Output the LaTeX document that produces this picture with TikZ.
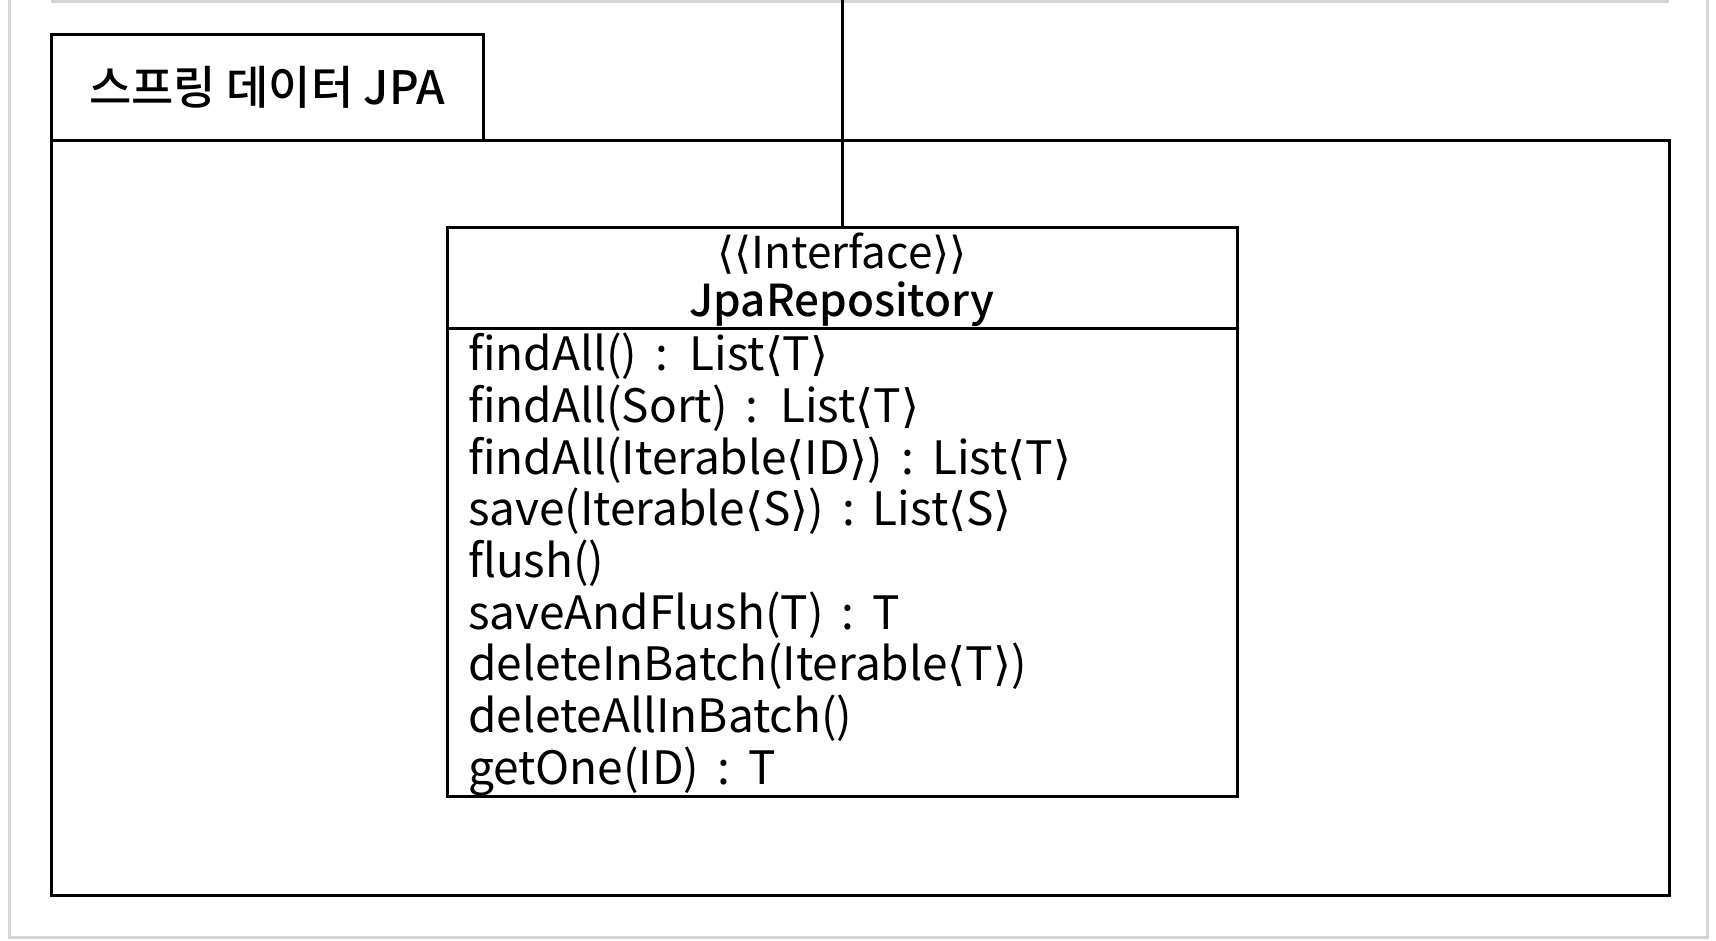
\documentclass[tikz,border=0pt]{standalone}
\usepackage{fontspec}
\setmainfont{Noto Sans CJK KR}
\newfontfamily\medfont{Noto Sans CJK KR}[UprightFont=* Medium]
\newfontfamily\brfont{DejaVu Sans}
\usetikzlibrary{positioning}
\definecolor{edgegray}{HTML}{D6D6D6}
\newcommand{\ltri}{{\brfont ⟨}}
\newcommand{\rtri}{{\brfont ⟩}}

\begin{document}
\begin{tikzpicture}[
    x=1pt, y=-1pt,
    pkg/.style={draw=black, line width=3pt, inner sep=0pt, outer sep=0pt, fill=white},
    txt/.style={inner sep=0pt, outer sep=0pt},
    wire/.style={draw=black, line width=3pt},
    edge/.style={draw=edgegray, line width=3pt},
]
  \useasboundingbox[fill=white] (0,0) rectangle (1716,940);
  %% outer gray frame
  \draw[edge] (51,1) -- (1669,1);
  \draw[edge] (9,0) -- (9,937) -- (1707,937) -- (1707,0);
  %% package with tab
  \node[pkg, minimum width=432pt, minimum height=106pt, anchor=north west,
        font=\fontsize{46}{50}\selectfont\medfont] (tab) at (51,34) {스프링 데이터 JPA};
  \node[pkg, minimum width=1618pt, minimum height=755pt, anchor=north west] (frame) at (51,140) {};
  %% interface class
  \node[pkg, minimum width=790pt, minimum height=101pt, anchor=north west] (head) at (447,227) {};
  \node[pkg, minimum width=790pt, minimum height=468pt, below=0pt of head] (body) {};
  \node[txt, anchor=base, font=\fontsize{44}{48}\selectfont] (stereo) at (842,268)
        {\ltri\ltri Interface\rtri\rtri};
  \node[txt, anchor=base, font=\fontsize{44}{48}\selectfont\medfont] (cname) at (842,316) {JpaRepository};
  \node[txt, anchor=north west, align=left, font=\fontsize{46}{51.7}\selectfont] (ops) at (468,333)
        {findAll() \,:\, List\ltri T\rtri\\
         findAll(Sort) \,:\, List\ltri T\rtri\\
         findAll(Iterable\ltri ID\rtri) \,:\, List\ltri T\rtri\\
         save(Iterable\ltri S\rtri) \,:\, List\ltri S\rtri\\
         flush()\\
         saveAndFlush(T) \,:\, T\\
         deleteInBatch(Iterable\ltri T\rtri)\\
         deleteAllInBatch()\\
         getOne(ID) \,:\, T};
  %% link upward
  \coordinate (up) at (head.north |- 0,0);
  \draw[wire] (head.north) -- (up);
\end{tikzpicture}
\end{document}
